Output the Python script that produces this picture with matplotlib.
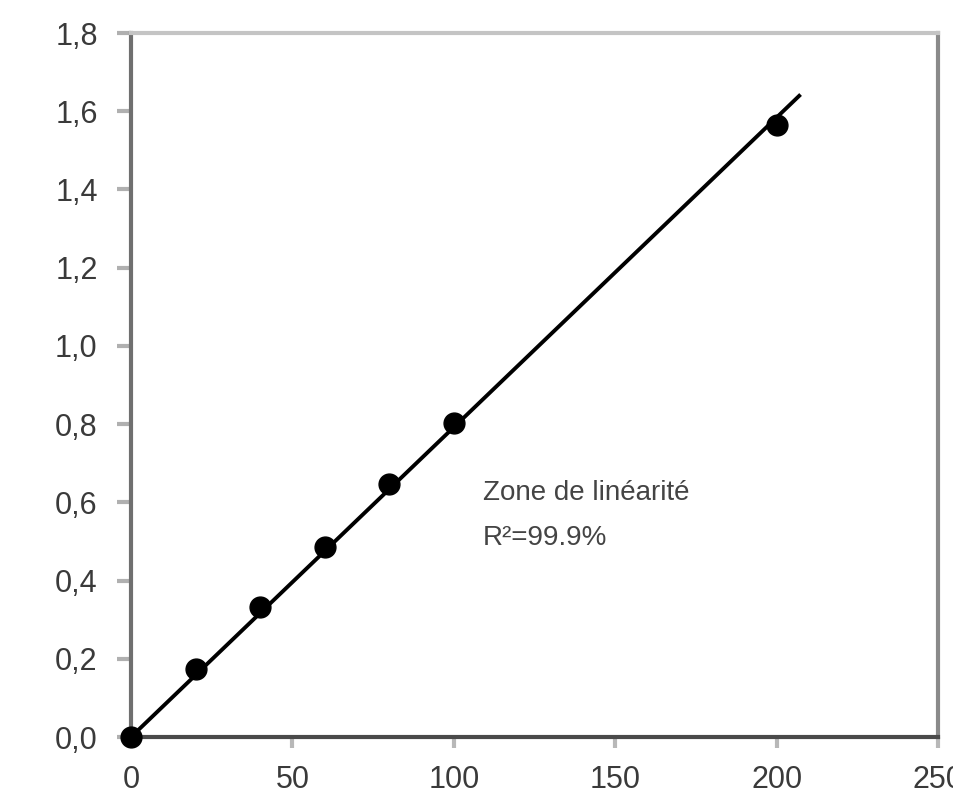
import matplotlib
matplotlib.use("Agg")
import matplotlib.pyplot as plt
from matplotlib.ticker import FuncFormatter
import numpy as np

# concentration vs absorbance
conc = [0, 20, 40, 60, 80, 100, 200]
absorb = [0.0, 0.174, 0.333, 0.486, 0.647, 0.803, 1.565]
x_ticks = [0, 50, 100, 150, 200, 250]
y_ticks = [0.0, 0.2, 0.4, 0.6, 0.8, 1.0, 1.2, 1.4, 1.6, 1.8]
fit_range = [0, 207]

plt.rcParams["font.family"] = ["Liberation Sans", "DejaVu Sans"]

fig = plt.figure(figsize=(9.54, 7.96), dpi=100)
ax = fig.add_axes([0.1373, 0.0741, 0.8459, 0.8844])

# linear fit through the origin
x = np.array(conc)
y = np.array(absorb)
slope = (x * y).sum() / (x * x).sum()
xf = np.array(fit_range)
ax.plot(xf, slope * xf, color="black", lw=2.8, zorder=2)
ax.plot(conc, absorb, "o", color="black", ms=15, zorder=3, clip_on=False)

ax.text(109, 0.625, "Zone de linéarité", fontsize=20, color="#444444", va="center")
ax.text(109, 0.51, "R²=99.9%", fontsize=20, color="#444444", va="center")

ax.set_xlim(0, 250)
ax.set_ylim(0, 1.8)
ax.set_xticks(x_ticks)
ax.set_yticks(y_ticks)
ax.yaxis.set_major_formatter(FuncFormatter(lambda v, p: f"{v:.1f}".replace(".", ",")))

ax.spines["left"].set_color("#6f6f6f")
ax.spines["left"].set_linewidth(3)
ax.spines["bottom"].set_color("#4a4a4a")
ax.spines["bottom"].set_linewidth(3)
ax.spines["right"].set_color("#8a8a8a")
ax.spines["right"].set_linewidth(3)
ax.spines["top"].set_color("#c4c4c4")
ax.spines["top"].set_linewidth(3)

ax.tick_params(axis="y", direction="out", length=10, width=3, color="#b0b0b0",
               labelsize=22, labelcolor="#3a3a3a", pad=14)
ax.tick_params(axis="x", direction="out", length=8, width=3, color="#b8b8b8",
               labelsize=22, labelcolor="#3a3a3a", pad=12)

fig.savefig("out.png", dpi=100)
